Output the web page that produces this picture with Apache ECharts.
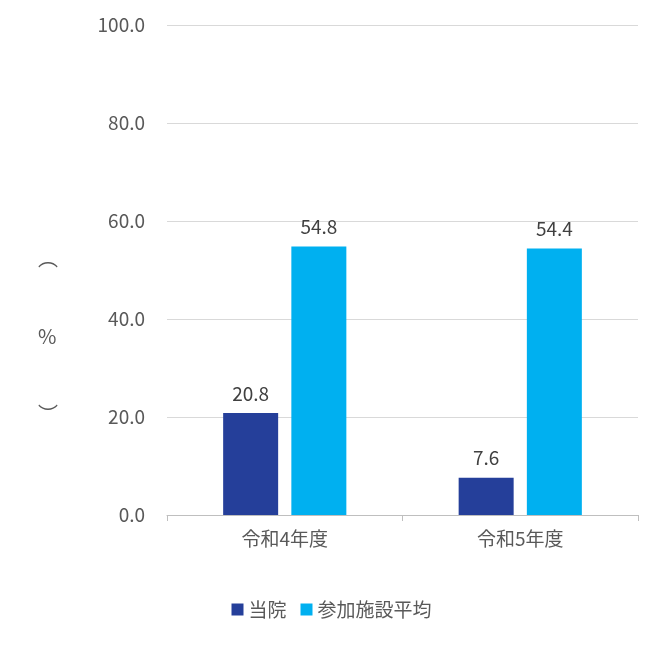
<!DOCTYPE html><html><head><meta charset="utf-8"><script src="https://cdn.jsdelivr.net/npm/echarts@6/dist/echarts.min.js"></script></head><body style="margin:0"><div id="c" style="width:663px;height:648px"></div><script>
const categories=['令和4年度','令和5年度'];
const hospital=[20.8,7.6];
const average=[54.8,54.4];
const seriesNames=['当院','参加施設平均'];
const F='"Noto Sans CJK JP","Noto Sans",sans-serif';
const ch=echarts.init(document.getElementById('c'));
ch.setOption({animation:false,textStyle:{fontFamily:F},
grid:{left:167,right:25,top:25,bottom:133},
legend:{bottom:24,left:'center',itemWidth:12,itemHeight:12,itemGap:14,icon:'rect',textStyle:{fontSize:19,color:'#595959',fontFamily:F},data:seriesNames},
graphic:[{type:'text',left:38,top:245,style:{text:'︵\n\n\n%\n\n\n︶',fontSize:20,fill:'#595959',lineHeight:26,align:'center',fontFamily:F}}],
xAxis:{type:'category',data:categories,axisLine:{lineStyle:{color:'#bfbfbf'}},axisTick:{show:true,length:6,lineStyle:{color:'#bfbfbf'}},axisLabel:{fontSize:19,color:'#595959',margin:14}},
yAxis:{type:'value',min:0,max:100,interval:20,axisLabel:{formatter:v=>v.toFixed(1),fontSize:19,color:'#595959',margin:22},splitLine:{lineStyle:{color:'#d9d9d9'}}},
series:[{name:seriesNames[0],type:'bar',data:hospital,barWidth:55,barGap:'24%',itemStyle:{color:'#253F9A'},label:{show:true,position:'top',distance:10,fontSize:19,color:'#404040',formatter:p=>p.value.toFixed(1)}},
{name:seriesNames[1],type:'bar',data:average,barWidth:55,itemStyle:{color:'#00B0F0'},label:{show:true,position:'top',distance:10,fontSize:19,color:'#404040',formatter:p=>p.value.toFixed(1)}}]});
</script></body></html>
